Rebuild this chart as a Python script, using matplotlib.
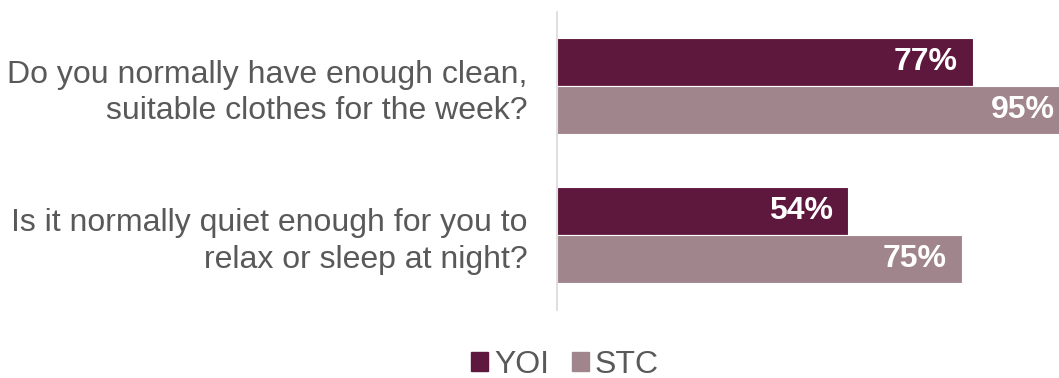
import matplotlib
matplotlib.use('Agg')
import matplotlib.pyplot as plt
import matplotlib.patches as mpatches
import numpy as np

plt.rcParams['font.family'] = ['Liberation Sans', 'DejaVu Sans']

# data
questions = ['Do you normally have enough clean,\nsuitable clothes for the week?',
             'Is it normally quiet enough for you to\nrelax or sleep at night?']
series_names = ['YOI', 'STC']
yoi_values = [77, 54]
stc_values = [95, 75]
colors = ['#5E173D', '#A0858D']
text_grey = '#595959'

fig = plt.figure(figsize=(10.59, 3.78), dpi=100)
ax = fig.add_axes([557 / 1059, 1 - 310 / 378, 502 / 1059, 298 / 378])

y = np.arange(len(questions))
h = 0.323
for vals, off, col in [(yoi_values, -h / 2, colors[0]), (stc_values, h / 2, colors[1])]:
    bars = ax.barh(y + off, vals, height=h, color=col, edgecolor='white', linewidth=0.8)
    for b, v in zip(bars, vals):
        ax.text(v - 2.8, b.get_y() + b.get_height() / 2, f'{v}%', ha='right', va='center',
                color='white', fontsize=23, fontweight='bold')

ax.set_xlim(0, 93)
ax.set_ylim(1.507, -0.5)
ax.set_xticks([])
ax.set_yticks(y)
ax.set_yticklabels(questions, fontsize=23, color=text_grey, ha='right', linespacing=1.28)
ax.tick_params(axis='y', length=0, pad=21)
for s in ['top', 'right', 'bottom']:
    ax.spines[s].set_visible(False)
ax.spines['left'].set_color('#D9D9D9')
ax.spines['left'].set_linewidth(1.2)

handles = [mpatches.Patch(color=c, label=n) for c, n in zip(colors, series_names)]
fig.legend(handles=handles, loc='center', bbox_to_anchor=(565 / 1059, 1 - 365 / 378), ncol=2,
           frameon=False, fontsize=23, handlelength=0.53, handleheight=0.53,
           handletextpad=0.2, columnspacing=0.7, labelcolor=text_grey)

plt.savefig('out.png', dpi=100)
plt.close()
